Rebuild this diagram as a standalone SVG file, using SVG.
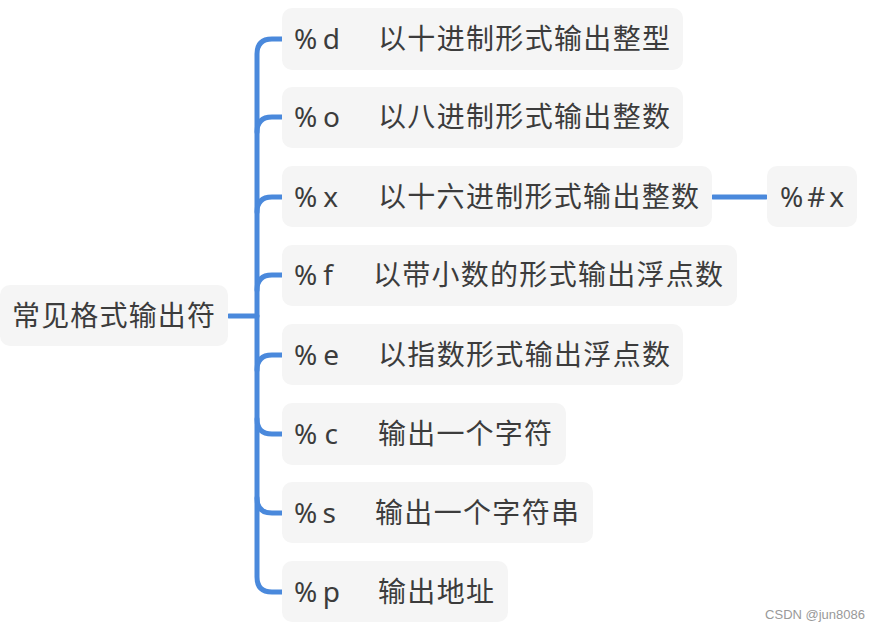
<svg xmlns="http://www.w3.org/2000/svg" width="880" height="631" viewBox="0 0 880 631">
<style>
.b{fill:#f5f5f5}
.t{font-family:"Noto Sans CJK SC","Noto Sans",sans-serif;font-size:28px;fill:#3c3c3c}
.k{font-family:"Noto Sans","Noto Sans CJK SC",sans-serif;font-size:28px;fill:#3c3c3c}
.c{fill:none;stroke:#4a89dc;stroke-width:5;stroke-linecap:round}
</style>
<rect width="880" height="631" fill="#fff"/>
<g id="connectors">
<path class="c" d="M229,316 H257"/>
<path class="c" d="M282,39 H272 Q257,39 257,54 V577 Q257,592 272,592 H282"/>
<path class="c" d="M257,132 Q257,117 272,117 H282"/>
<path class="c" d="M257,212 Q257,197 272,197 H282"/>
<path class="c" d="M257,290 Q257,275 272,275 H282"/>
<path class="c" d="M257,370 Q257,355 272,355 H282"/>
<path class="c" d="M257,419 Q257,434 272,434 H282"/>
<path class="c" d="M257,498 Q257,513 272,513 H282"/>
<path class="c" d="M713,197 H766"/>
</g>
<g id="root"><rect class="b" x="0" y="285" width="228" height="61" rx="10"/><text class="t" x="12" y="326" textLength="203" lengthAdjust="spacing">常见格式输出符</text></g>
<g id="n1"><rect class="b" x="282" y="8" width="401" height="62" rx="10"/><text class="k" x="294" y="49" textLength="46">%d</text><text class="t" x="378" y="49" textLength="292" lengthAdjust="spacing">以十进制形式输出整型</text></g>
<g id="n2"><rect class="b" x="282" y="87" width="401" height="61" rx="10"/><text class="k" x="294" y="127" textLength="46">%o</text><text class="t" x="378" y="127" textLength="292" lengthAdjust="spacing">以八进制形式输出整数</text></g>
<g id="n3"><rect class="b" x="282" y="166" width="430" height="61" rx="10"/><text class="k" x="294" y="207" textLength="44">%x</text><text class="t" x="378" y="207" textLength="321" lengthAdjust="spacing">以十六进制形式输出整数</text></g>
<g id="n3a"><rect class="b" x="767" y="166" width="90" height="61" rx="10"/><text class="k" x="780" y="207" textLength="64">%#x</text></g>
<g id="n4"><rect class="b" x="282" y="245" width="455" height="61" rx="10"/><text class="k" x="294" y="285" textLength="39">%f</text><text class="t" x="373" y="285" textLength="350" lengthAdjust="spacing">以带小数的形式输出浮点数</text></g>
<g id="n5"><rect class="b" x="282" y="324" width="401" height="61" rx="10"/><text class="k" x="294" y="365" textLength="45">%e</text><text class="t" x="378" y="365" textLength="292" lengthAdjust="spacing">以指数形式输出浮点数</text></g>
<g id="n6"><rect class="b" x="282" y="403" width="284" height="62" rx="10"/><text class="k" x="294" y="444" textLength="44">%c</text><text class="t" x="378" y="444" textLength="174" lengthAdjust="spacing">输出一个字符</text></g>
<g id="n7"><rect class="b" x="282" y="482" width="311" height="61" rx="10"/><text class="k" x="294" y="523" textLength="42">%s</text><text class="t" x="375" y="523" textLength="204" lengthAdjust="spacing">输出一个字符串</text></g>
<g id="n8"><rect class="b" x="282" y="561" width="226" height="61" rx="10"/><text class="k" x="294" y="602" textLength="46">%p</text><text class="t" x="378" y="602" textLength="116" lengthAdjust="spacing">输出地址</text></g>
<text x="865" y="619" text-anchor="end" style="font-family:'Liberation Sans',sans-serif;font-size:13px;fill:#999">CSDN @jun8086</text>
</svg>
